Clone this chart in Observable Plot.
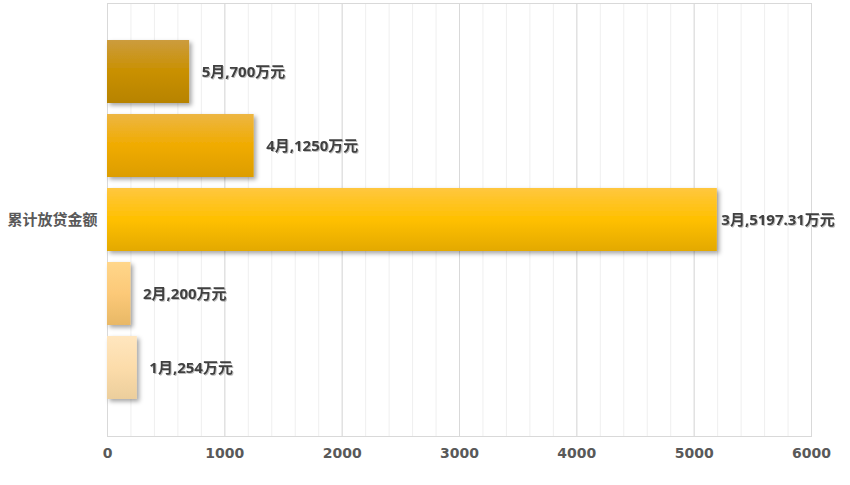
<!DOCTYPE html>
<html>
<head>
<meta charset="utf-8">
<script src="https://cdn.jsdelivr.net/npm/d3@7"></script>
<script src="https://cdn.jsdelivr.net/npm/@observablehq/plot@0.6"></script>
<style>
  html, body { margin: 0; padding: 0; background: #fff; }
</style>
</head>
<body>
<div id="chart"></div>
<script>
const category = "累计放贷金额";
const months = ["5月", "4月", "3月", "2月", "1月"];
const values = [700, 1250, 5197.31, 200, 254];
const labels = ["5月,700万元", "4月,1250万元", "3月,5197.31万元", "2月,200万元", "1月,254万元"];
const xTicks = [0, 1000, 2000, 3000, 4000, 5000, 6000];
const gradients = [
  ["#cc9c3e", "#c99000", "#b78300"],
  ["#edb643", "#f0ab00", "#dc9d00"],
  ["#ffc73f", "#ffc000", "#e3a900"],
  ["#ffd68a", "#fcc978", "#e8b866"],
  ["#ffe6bf", "#fcdcaa", "#ecce9c"]
];

const data = months.map((m, i) => ({cat: category, month: m, value: values[i], label: labels[i], grad: `url(#grad${i})`}));
const minorTicks = d3.range(0, 6001, 200);
const FONT = "'Noto Sans', 'Noto Sans CJK SC', sans-serif";

const chart = Plot.plot({
  width: 850,
  height: 485,
  marginLeft: 107,
  marginRight: 39,
  marginTop: 3,
  marginBottom: 49,
  style: {fontFamily: FONT, fontSize: "15px", fontWeight: "bold", color: "#595959", background: "#fff"},
  x: {domain: [0, 6000], ticks: xTicks, tickSize: 0, tickPadding: 12, tickFormat: d => String(d), label: null},
  y: {domain: months, axis: null, paddingInner: 0.155, paddingOuter: 0.48},
  fy: {domain: [category], padding: 0, label: null, tickSize: 0, tickPadding: 10},
  color: {type: "identity"},
  marks: [
    Plot.ruleX(minorTicks, {stroke: "#efefef", strokeWidth: 1}),
    Plot.ruleX(xTicks, {stroke: "#d9d9d9", strokeWidth: 1}),
    Plot.frame({stroke: "#d9d9d9"}),
    Plot.barX(data, {fy: "cat", y: "month", x: "value", fill: "grad"}),
    Plot.text(data.filter(d => d.month !== "3月"), {fy: "cat", y: "month", x: "value", text: "label", textAnchor: "start", dx: 12, fill: "#404040", fontSize: 15, fontWeight: "bold"}),
    Plot.text(data.filter(d => d.month === "3月"), {fy: "cat", y: "month", x: "value", text: "label", textAnchor: "start", dx: 4, fill: "#404040", fontSize: 15, fontWeight: "bold"})
  ]
});

const svg = d3.select(chart);
const defs = svg.insert("defs", ":first-child");
gradients.forEach((stops, i) => {
  const g = defs.append("linearGradient").attr("id", `grad${i}`).attr("x1", 0).attr("y1", 0).attr("x2", 0).attr("y2", 1);
  g.append("stop").attr("offset", "0%").attr("stop-color", stops[0]);
  g.append("stop").attr("offset", "50%").attr("stop-color", stops[1]);
  g.append("stop").attr("offset", "100%").attr("stop-color", stops[2]);
});
const f = defs.append("filter").attr("id", "shadow").attr("x", "-10%").attr("y", "-10%").attr("width", "130%").attr("height", "140%");
f.append("feDropShadow").attr("dx", 2.5).attr("dy", 2.5).attr("stdDeviation", 2).attr("flood-color", "#000").attr("flood-opacity", 0.35);
const ft = defs.append("filter").attr("id", "tshadow").attr("x", "-5%").attr("y", "-20%").attr("width", "115%").attr("height", "150%");
ft.append("feDropShadow").attr("dx", 1).attr("dy", 1).attr("stdDeviation", 0.6).attr("flood-color", "#000").attr("flood-opacity", 0.25);
svg.selectAll('g[aria-label="bar"]').attr("filter", "url(#shadow)");
svg.selectAll('g[aria-label="text"]').attr("filter", "url(#tshadow)");
svg.selectAll('g[aria-label^="x-axis"]').attr("font-family", "'DejaVu Sans', sans-serif").attr("font-size", 14).attr("font-weight", "bold");

document.getElementById("chart").appendChild(chart);
</script>
</body>
</html>
